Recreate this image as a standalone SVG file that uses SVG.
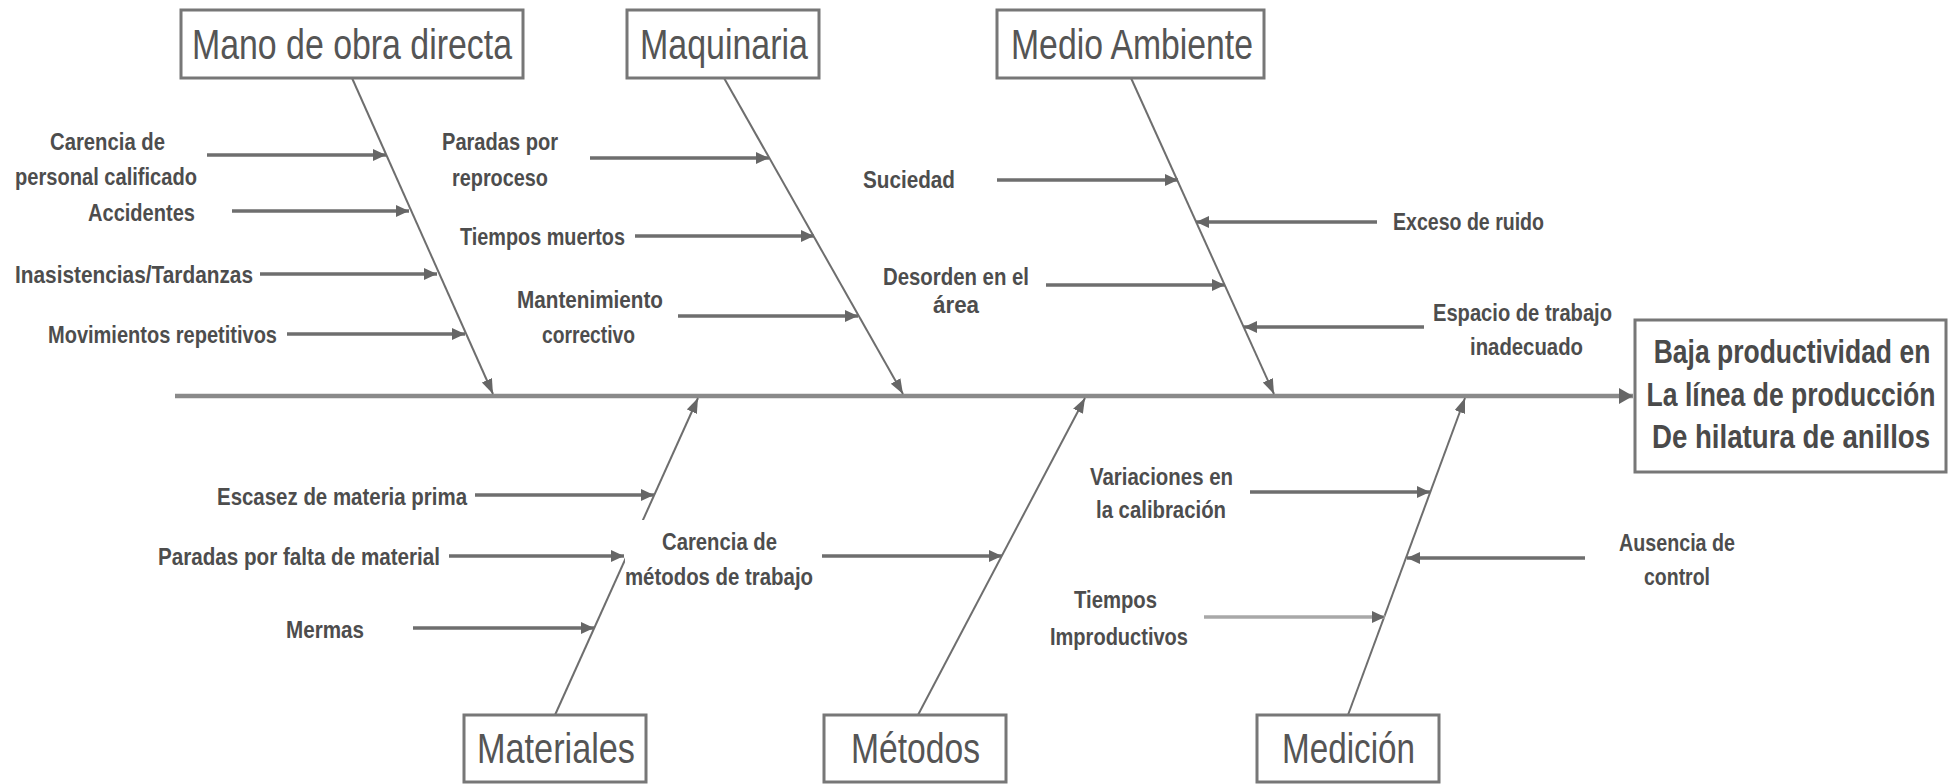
<svg xmlns="http://www.w3.org/2000/svg" width="1960" height="784" viewBox="0 0 1960 784">
<defs>
<style>
.box{fill:#fff;stroke:#777;stroke-width:3}
.t{font-family:"Liberation Sans Narrow","Liberation Sans",Arial,sans-serif;font-size:42px;fill:#555;text-anchor:middle}
.c{font-family:"Liberation Sans Narrow","Liberation Sans",Arial,sans-serif;font-size:24px;font-weight:bold;fill:#4d4d4d;text-anchor:middle}
.e{font-family:"Liberation Sans",Arial,sans-serif;font-size:34px;font-weight:bold;fill:#4a4a4a;text-anchor:middle}
.spine{stroke:#8a8a8a;stroke-width:4.5;fill:none}
.bone{stroke:#6e6e6e;stroke-width:2;fill:none}
.cause{stroke:#6e6e6e;stroke-width:3.5;fill:none}
.light{stroke:#a8a8a8}
</style>
<marker id="ah" markerUnits="userSpaceOnUse" markerWidth="14" markerHeight="14" refX="13" refY="6" orient="auto"><path d="M0,0 L13,6 L0,12 z" fill="#666"/></marker>
<marker id="bh" markerUnits="userSpaceOnUse" markerWidth="16" markerHeight="14" refX="15" refY="5.5" orient="auto"><path d="M0,0 L15,5.5 L0,11 z" fill="#666"/></marker>
<marker id="sh" markerUnits="userSpaceOnUse" markerWidth="16" markerHeight="18" refX="14" refY="8" orient="auto"><path d="M0,0 L14,8 L0,16 z" fill="#666"/></marker>
</defs>
<rect width="1960" height="784" fill="#fff"/>

<g id="connectors">
<line class="spine" x1="175" y1="396" x2="1633" y2="396" marker-end="url(#sh)"/>
<line class="bone" x1="352" y1="78" x2="493" y2="394" marker-end="url(#bh)"/>
<line class="bone" x1="724" y1="78" x2="903" y2="394" marker-end="url(#bh)"/>
<line class="bone" x1="1131" y1="78" x2="1274" y2="394" marker-end="url(#bh)"/>
<line class="bone" x1="555" y1="715" x2="698" y2="398" marker-end="url(#bh)"/>
<line class="bone" x1="918" y1="715" x2="1085" y2="398" marker-end="url(#bh)"/>
<line class="bone" x1="1348" y1="715" x2="1465" y2="398" marker-end="url(#bh)"/>

<line class="cause" x1="207" y1="155" x2="386" y2="155" marker-end="url(#ah)"/>
<line class="cause" x1="232" y1="211" x2="409" y2="211" marker-end="url(#ah)"/>
<line class="cause" x1="260" y1="274" x2="437" y2="274" marker-end="url(#ah)"/>
<line class="cause" x1="287" y1="334" x2="465" y2="334" marker-end="url(#ah)"/>
<line class="cause" x1="590" y1="158" x2="769" y2="158" marker-end="url(#ah)"/>
<line class="cause" x1="635" y1="236" x2="814" y2="236" marker-end="url(#ah)"/>
<line class="cause" x1="678" y1="316" x2="858" y2="316" marker-end="url(#ah)"/>
<line class="cause" x1="997" y1="180" x2="1178" y2="180" marker-end="url(#ah)"/>
<line class="cause" x1="1377" y1="222" x2="1196" y2="222" marker-end="url(#ah)"/>
<line class="cause" x1="1046" y1="285" x2="1225" y2="285" marker-end="url(#ah)"/>
<line class="cause" x1="1424" y1="327" x2="1244" y2="327" marker-end="url(#ah)"/>
<line class="cause" x1="475" y1="495" x2="654" y2="495" marker-end="url(#ah)"/>
<line class="cause" x1="449" y1="556" x2="624" y2="556" marker-end="url(#ah)"/>
<line class="cause" x1="413" y1="628" x2="594" y2="628" marker-end="url(#ah)"/>
<line class="cause" x1="822" y1="556" x2="1002" y2="556" marker-end="url(#ah)"/>
<line class="cause" x1="1250" y1="492" x2="1430" y2="492" marker-end="url(#ah)"/>
<line class="cause" x1="1585" y1="558" x2="1407" y2="558" marker-end="url(#ah)"/>
<line class="cause light" x1="1204" y1="617" x2="1385" y2="617" marker-end="url(#ah)"/>
</g>

<g id="mano">
<rect class="box" x="181" y="10" width="342" height="68"/>
<text class="t" x="352" y="59" textLength="320" lengthAdjust="spacingAndGlyphs">Mano de obra directa</text>
</g>
<g id="maquinaria">
<rect class="box" x="627" y="10" width="192" height="68"/>
<text class="t" x="724" y="59" textLength="168" lengthAdjust="spacingAndGlyphs">Maquinaria</text>
</g>
<g id="medio">
<rect class="box" x="997" y="10" width="267" height="68"/>
<text class="t" x="1132" y="59" textLength="242" lengthAdjust="spacingAndGlyphs">Medio Ambiente</text>
</g>
<g id="materiales">
<rect class="box" x="464" y="715" width="182" height="67"/>
<text class="t" x="556" y="763" textLength="158" lengthAdjust="spacingAndGlyphs">Materiales</text>
</g>
<g id="metodos">
<rect class="box" x="824" y="715" width="182" height="67"/>
<text class="t" x="915.5" y="763" textLength="129" lengthAdjust="spacingAndGlyphs">Métodos</text>
</g>
<g id="medicion">
<rect class="box" x="1257" y="715" width="182" height="67"/>
<text class="t" x="1348.5" y="763" textLength="133" lengthAdjust="spacingAndGlyphs">Medición</text>
</g>
<g id="efecto">
<rect class="box" x="1635" y="320" width="311" height="152"/>
<text class="e" transform="translate(1792,363) scale(0.76,1)" x="0" y="0" textLength="364" lengthAdjust="spacingAndGlyphs">Baja productividad en</text>
<text class="e" transform="translate(1791,406) scale(0.76,1)" x="0" y="0" textLength="380" lengthAdjust="spacingAndGlyphs">La línea de producción</text>
<text class="e" transform="translate(1791,448) scale(0.76,1)" x="0" y="0" textLength="366" lengthAdjust="spacingAndGlyphs">De hilatura de anillos</text>
</g>

<g id="causa-mano">
<text class="c" x="107.5" y="150" textLength="115" lengthAdjust="spacingAndGlyphs">Carencia de</text>
<text class="c" x="106" y="185" textLength="182" lengthAdjust="spacingAndGlyphs">personal calificado</text>
<text class="c" x="141.5" y="221" textLength="107" lengthAdjust="spacingAndGlyphs">Accidentes</text>
<text class="c" x="134" y="283" textLength="238" lengthAdjust="spacingAndGlyphs">Inasistencias/Tardanzas</text>
<text class="c" x="162.5" y="343" textLength="229" lengthAdjust="spacingAndGlyphs">Movimientos repetitivos</text>
</g>
<g id="causa-maquinaria">
<text class="c" x="500" y="150" textLength="116" lengthAdjust="spacingAndGlyphs">Paradas por</text>
<text class="c" x="500" y="186" textLength="96" lengthAdjust="spacingAndGlyphs">reproceso</text>
<text class="c" x="542.5" y="245" textLength="165" lengthAdjust="spacingAndGlyphs">Tiempos muertos</text>
<text class="c" x="590" y="308" textLength="146" lengthAdjust="spacingAndGlyphs">Mantenimiento</text>
<text class="c" x="588.5" y="343" textLength="93" lengthAdjust="spacingAndGlyphs">correctivo</text>
</g>
<g id="causa-medio">
<text class="c" x="909" y="188" textLength="92" lengthAdjust="spacingAndGlyphs">Suciedad</text>
<text class="c" x="1468.5" y="230" textLength="151" lengthAdjust="spacingAndGlyphs">Exceso de ruido</text>
<text class="c" x="956" y="285" textLength="146" lengthAdjust="spacingAndGlyphs">Desorden en el</text>
<text class="c" x="956" y="313" textLength="46" lengthAdjust="spacingAndGlyphs">área</text>
<text class="c" x="1522.5" y="321" textLength="179" lengthAdjust="spacingAndGlyphs">Espacio de trabajo</text>
<text class="c" x="1526.5" y="355" textLength="113" lengthAdjust="spacingAndGlyphs">inadecuado</text>
</g>
<g id="causa-materiales">
<text class="c" x="342" y="505" textLength="250" lengthAdjust="spacingAndGlyphs">Escasez de materia prima</text>
<text class="c" x="299" y="565" textLength="282" lengthAdjust="spacingAndGlyphs">Paradas por falta de material</text>
<text class="c" x="325" y="638" textLength="78" lengthAdjust="spacingAndGlyphs">Mermas</text>
</g>
<g id="causa-metodos">
<rect x="625" y="520" width="192" height="72" fill="#fff"/>
<text class="c" x="719.5" y="550" textLength="115" lengthAdjust="spacingAndGlyphs">Carencia de</text>
<text class="c" x="719" y="585" textLength="188" lengthAdjust="spacingAndGlyphs">métodos de trabajo</text>
</g>
<g id="causa-medicion">
<text class="c" x="1161.5" y="485" textLength="143" lengthAdjust="spacingAndGlyphs">Variaciones en</text>
<text class="c" x="1161" y="518" textLength="130" lengthAdjust="spacingAndGlyphs">la calibración</text>
<text class="c" x="1115.5" y="608" textLength="83" lengthAdjust="spacingAndGlyphs">Tiempos</text>
<text class="c" x="1119" y="645" textLength="138" lengthAdjust="spacingAndGlyphs">Improductivos</text>
<text class="c" x="1677" y="551" textLength="116" lengthAdjust="spacingAndGlyphs">Ausencia de</text>
<text class="c" x="1677" y="585" textLength="66" lengthAdjust="spacingAndGlyphs">control</text>
</g>
</svg>
